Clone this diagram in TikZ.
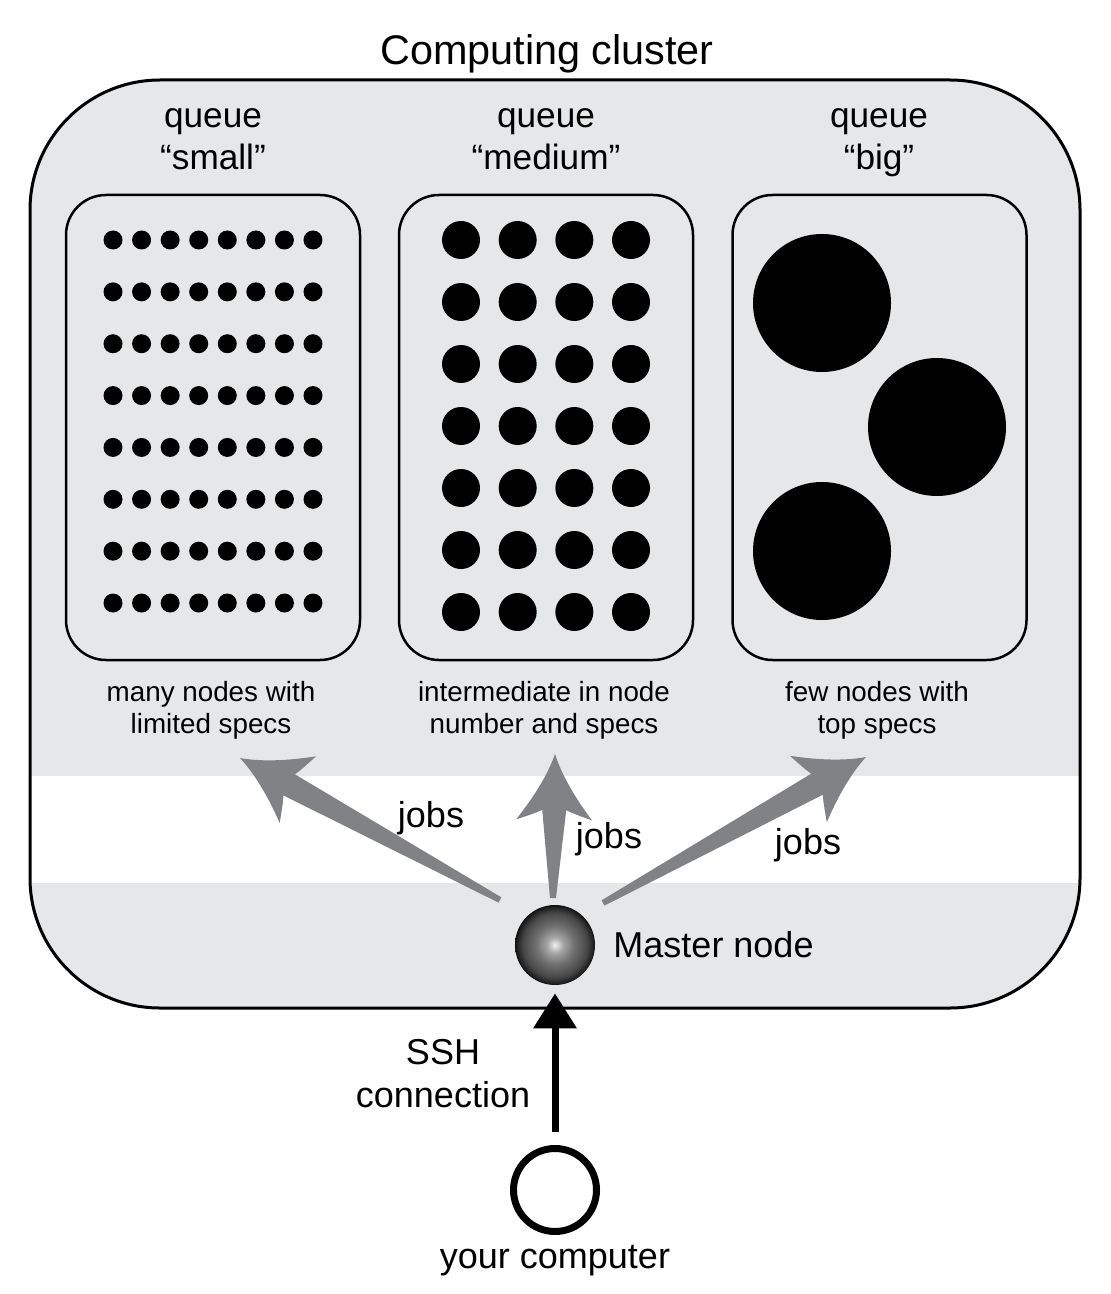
\documentclass[tikz,border=0pt]{standalone}
\usepackage{fontspec}
\setmainfont{Liberation Sans}
\definecolor{clusterbg}{HTML}{E6E7E8}
\definecolor{jobgray}{HTML}{808285}
\usetikzlibrary{calc,positioning,arrows.meta,shadings}

\pgfdeclareradialshading{masterball}{\pgfpoint{0bp}{0bp}}{color(0bp)=(black!5); color(5bp)=(black!35); color(12bp)=(black!56); color(20bp)=(black!72); color(24bp)=(black!88); color(25bp)=(black!95); color(50bp)=(black!95)}

% fat grey arrow from #1 to #2
\newcommand{\jobarrow}[2]{%
  \pgfpointdiff{\pgfpointanchor{#1}{center}}{\pgfpointanchor{#2}{center}}%
  \pgfgetlastxy{\jobdx}{\jobdy}%
  \pgfmathsetmacro{\jobang}{atan2(\jobdy,\jobdx)}%
  \pgfmathsetmacro{\joblen}{veclen(\jobdx,\jobdy)}%
  \fill[jobgray,shift={(#1)},rotate=\jobang]
    (0pt,-1.5pt) -- (\joblen pt-28pt,-6pt)
    .. controls (\joblen pt-30pt,-10pt) and (\joblen pt-31.5pt,-15pt) .. (\joblen pt-33pt,-19pt)
    .. controls (\joblen pt-20pt,-9pt) and (\joblen pt-9pt,-3pt) .. (\joblen pt,0pt)
    .. controls (\joblen pt-9pt,3pt) and (\joblen pt-20pt,9pt) .. (\joblen pt-33pt,19pt)
    .. controls (\joblen pt-31.5pt,15pt) and (\joblen pt-30pt,10pt) .. (\joblen pt-28pt,6pt)
    -- (0pt,1.5pt) -- cycle;
}

\begin{document}
\begin{tikzpicture}[
  x=0.5pt,y=-0.5pt,
  queuebox/.style={draw,line width=1.25pt,rounded corners=20pt,
                   minimum width=147pt,minimum height=232.5pt},
  qlabel/.style={align=center,font=\fontsize{17.6}{21}\selectfont},
  speclabel/.style={align=center,font=\fontsize{13.9}{16}\selectfont},
  biglabel/.style={align=center,font=\fontsize{18}{21.5}\selectfont},
  sshline/.style={line width=3.5pt,-{Triangle[width=21pt,length=17.5pt]},
                  shorten <=6.5pt,shorten >=4pt}
]
  \useasboundingbox (0,0) rectangle (1110,1294);

  % cluster
  \fill[clusterbg,rounded corners=65pt] (30,80) rectangle (1080,1008);
  \begin{scope}
    \clip[rounded corners=65pt] (30,80) rectangle (1080,1008);
    \fill[white] (30,776) rectangle (1080,883);
  \end{scope}
  \draw[line width=1.5pt,rounded corners=65pt] (30,80) rectangle (1080,1008);
  \node[font=\fontsize{20.7}{24}\selectfont] (title) at (547,54) {Computing cluster};

  % queues
  \node[queuebox] (qsmall) at (213,427.5) {};
  \node[queuebox] (qmedium) at (546,427.5) {};
  \node[queuebox] (qbig) at (879.5,427.5) {};
  \node[qlabel] (lsmall) at (213,139) {queue\\“small”};
  \node[qlabel] (lmedium) at (546,139) {queue\\“medium”};
  \node[qlabel] (lbig) at (879,143) {queue\\“big”};

  \foreach \i in {0,...,7}
    \foreach \j in {0,...,7}
      \fill (113+28.57*\i,240+51.86*\j) circle[radius=4.75pt];
  \foreach \i in {0,...,3}
    \foreach \j in {0,...,6}
      \fill (461+56.67*\i,240+62*\j) circle[radius=9.5pt];
  \fill (822,303) circle[radius=34.5pt];
  \fill (937,427) circle[radius=34.5pt];
  \fill (822,551) circle[radius=34.5pt];

  \node[speclabel] (ssmall) at (211,710) {many nodes with\\limited specs};
  \node[speclabel] (smedium) at (544,710) {intermediate in node\\number and specs};
  \node[speclabel] (sbig) at (877,710) {few nodes with\\top specs};

  % master node and jobs
  \node[circle,shade,shading=masterball,minimum size=40pt,inner sep=0pt] (master) at (555,945) {};
  \node[biglabel,right=5.5pt of master] (mlabel) {Master node};

  \coordinate (jl0) at ($(master)+(-55,-45)$);
  \coordinate (jm0) at ($(master)+(-2,-47)$);
  \coordinate (jr0) at ($(master)+(48,-42)$);
  \coordinate (jl1) at (240,758);
  \coordinate (jm1) at (555,754);
  \coordinate (jr1) at (866,757);
  \jobarrow{jl0}{jl1}
  \jobarrow{jm0}{jm1}
  \jobarrow{jr0}{jr1}
  \node[biglabel] (jobsl) at (431,818) {jobs};
  \node[biglabel] (jobsm) at (609,839) {jobs};
  \node[biglabel] (jobsr) at (808,845) {jobs};

  % your computer
  \node[circle,draw,line width=3.5pt,minimum size=41.5pt,inner sep=0pt] (comp) at (555,1190) {};
  \node[biglabel] (clabel) at (555,1261) {your computer};
  \draw[sshline] (comp) -- (master);
  \node[biglabel] (sshlabel) at (443,1074) {SSH\\connection};
\end{tikzpicture}
\end{document}
